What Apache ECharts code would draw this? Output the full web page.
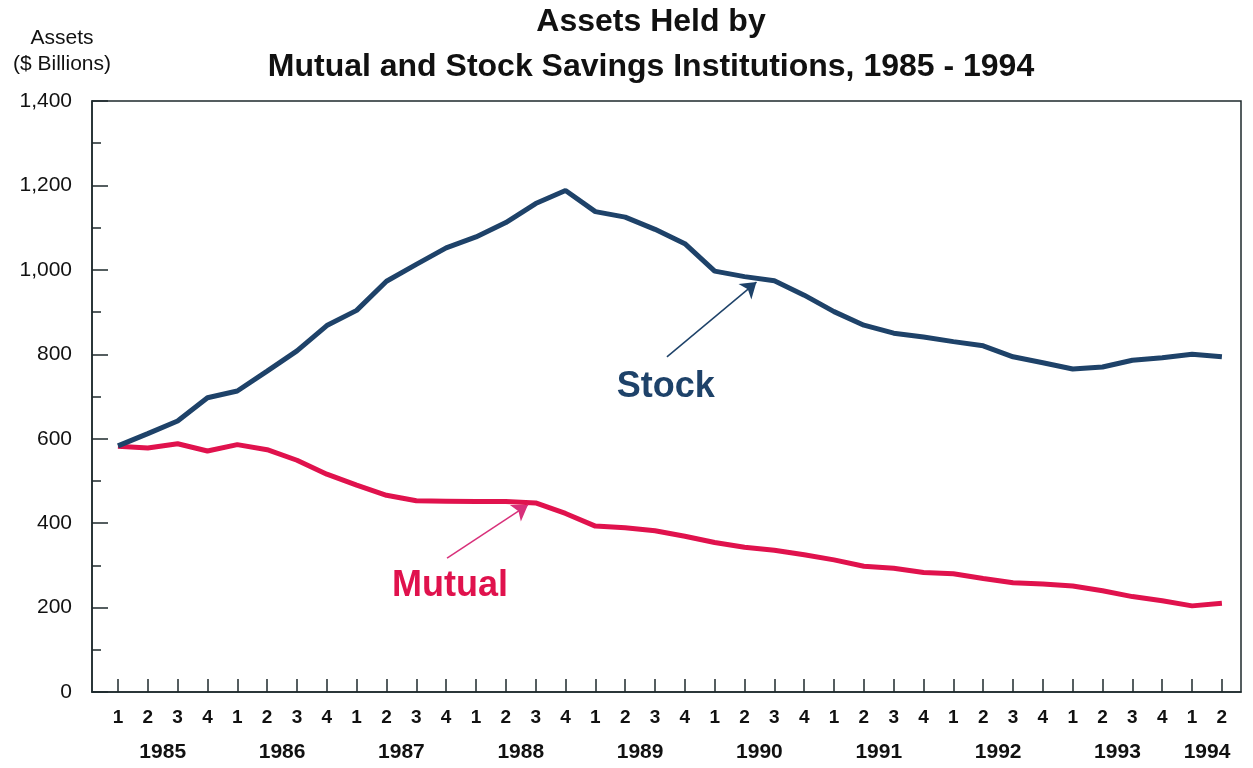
<!DOCTYPE html>
<html>
<head>
<meta charset="utf-8">
<script src="https://cdn.jsdelivr.net/npm/echarts@6/dist/echarts.min.js"></script>
<style>html,body{margin:0;padding:0;background:#fff;}#c{width:1253px;height:768px;}</style>
</head>
<body>
<div id="c"></div>
<script>
// ---- data ----
const years = ['1985','1985','1985','1985','1986','1986','1986','1986','1987','1987','1987','1987',
  '1988','1988','1988','1988','1989','1989','1989','1989','1990','1990','1990','1990',
  '1991','1991','1991','1991','1992','1992','1992','1992','1993','1993','1993','1993','1994','1994'];
const quarters = ['1','2','3','4','1','2','3','4','1','2','3','4','1','2','3','4','1','2','3','4',
  '1','2','3','4','1','2','3','4','1','2','3','4','1','2','3','4','1','2'];
const stock = [583, 612, 642, 697, 713, 760, 808, 868, 904, 973, 1013, 1052, 1078, 1112, 1157, 1188,
  1138, 1125, 1096, 1062, 997, 984, 974, 940, 901, 869, 850, 841, 830, 820, 794, 780,
  765, 770, 786, 792, 800, 794];
const mutual = [582, 578, 588, 571, 586, 574, 549, 516, 490, 466, 453, 452, 451, 451, 448, 423,
  393, 389, 382, 369, 354, 343, 336, 325, 313, 298, 293, 283, 280, 269, 259, 256,
  251, 240, 226, 216, 204, 210];

// ---- derived ----
const idx = quarters.map((q, i) => i);
const yearList = [...new Set(years)];
const yearPos = yearList.map(y => {
  const ii = idx.filter(i => years[i] === y);
  return ii.reduce((a, b) => a + b, 0) / ii.length;
});
const stockData = stock.map((v, i) => [i, v]);
const mutualData = mutual.map((v, i) => [i, v]);

const FONT = 'Liberation Sans';
const AX = '#1e2a2c';
const NAVY = '#1e4269';
const RED = '#e0124d';

function txt(x, y, text, size, weight) {
  return {type: 'text', x: x, y: y, style: {text: text, fontFamily: FONT, fontSize: size, fontWeight: weight, fill: '#111', align: 'center', verticalAlign: 'middle'}};
}

const chart = echarts.init(document.getElementById('c'), null, {renderer: 'canvas'});
chart.setOption({
  backgroundColor: '#ffffff',
  animation: false,
  textStyle: {fontFamily: FONT},
  graphic: [
    txt(651, 22, 'Assets Held by', 32, 'bold'),
    txt(651, 67, 'Mutual and Stock Savings Institutions, 1985 - 1994', 32, 'bold'),
    txt(62, 38, 'Assets', 21, 'normal'),
    txt(62, 64, '($ Billions)', 21, 'normal')
  ],
  grid: {left: 92, right: 12, top: 101, bottom: 76, show: true, borderColor: AX, borderWidth: 1.5, containLabel: false},
  xAxis: [
    {
      type: 'value', min: -0.87, max: 37.64, position: 'bottom',
      axisLine: {show: true, onZero: false, lineStyle: {color: AX, width: 1.5}},
      axisTick: {show: true, inside: true, length: 13, customValues: idx, lineStyle: {color: AX, width: 1.5}},
      axisLabel: {show: true, customValues: idx, formatter: v => quarters[Math.round(v)], color: '#111', fontSize: 19, fontWeight: 'bold', margin: 16, fontFamily: FONT},
      splitLine: {show: false}
    },
    {
      type: 'value', min: -0.87, max: 37.64, position: 'bottom', offset: 35,
      axisLine: {show: false, onZero: false}, axisTick: {show: false},
      axisLabel: {show: true, customValues: yearPos, formatter: v => yearList[yearPos.findIndex(p => Math.abs(p - v) < 1e-6)], color: '#111', fontSize: 21, fontWeight: 'bold', margin: 15, fontFamily: FONT},
      splitLine: {show: false}
    }
  ],
  yAxis: {
    type: 'value', min: 0, max: 1400, interval: 200,
    axisLine: {show: true, onZero: false, lineStyle: {color: AX, width: 1.5}},
    axisTick: {show: true, inside: true, length: 16, lineStyle: {color: AX, width: 1.5}},
    minorTick: {show: true, splitNumber: 2, length: 9, lineStyle: {color: AX, width: 1.5}},
    axisLabel: {color: '#111', fontSize: 21, margin: 20, fontFamily: FONT, formatter: v => v.toLocaleString('en-US')},
    splitLine: {show: false}
  },
  series: [
    {
      name: 'Stock', type: 'line', xAxisIndex: 0, data: stockData, symbol: 'none',
      lineStyle: {color: NAVY, width: 5}, z: 3,
      markLine: {
        silent: true, symbol: ['none', 'arrow'], symbolSize: 14,
        lineStyle: {color: NAVY, width: 1.5, type: 'solid'}, label: {show: false},
        data: [[{coord: [18.4, 794], symbol: 'none'}, {coord: [21.4, 971], symbol: 'arrow', symbolSize: 15}]]
      },
      markPoint: {
        symbol: 'circle', symbolSize: 0, silent: true,
        label: {show: true, position: 'inside', formatter: 'Stock', color: NAVY, fontSize: 36, fontWeight: 'bold', fontFamily: FONT},
        data: [{coord: [18.36, 723]}]
      }
    },
    {
      name: 'Mutual', type: 'line', xAxisIndex: 0, data: mutualData, symbol: 'none',
      lineStyle: {color: RED, width: 5}, z: 2,
      markLine: {
        silent: true, symbol: ['none', 'arrow'], symbolSize: 14,
        lineStyle: {color: '#d8307a', width: 1.5, type: 'solid'}, label: {show: false},
        data: [[{coord: [11.03, 317], symbol: 'none'}, {coord: [13.74, 443], symbol: 'arrow', symbolSize: 15}]]
      },
      markPoint: {
        symbol: 'circle', symbolSize: 0, silent: true,
        label: {show: true, position: 'inside', formatter: 'Mutual', color: RED, fontSize: 36, fontWeight: 'bold', fontFamily: FONT},
        data: [{coord: [11.13, 251]}]
      }
    }
  ]
});
</script>
</body>
</html>
